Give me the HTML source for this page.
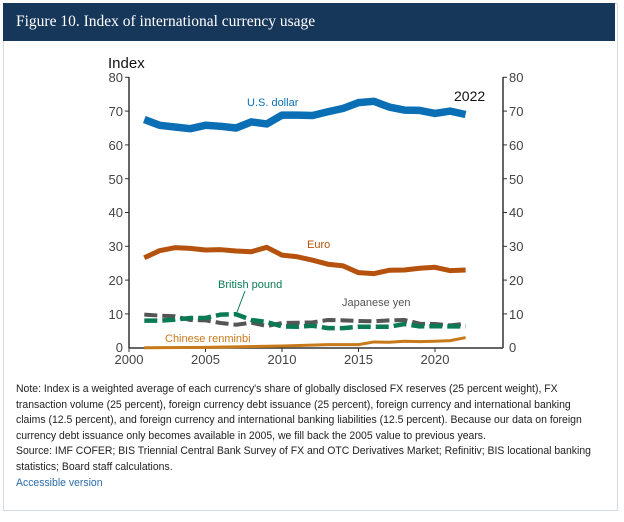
<!DOCTYPE html>
<html><head><meta charset="utf-8"><style>
body{margin:0;background:#fff;width:624px;height:522px;overflow:hidden;font-family:"Liberation Sans",sans-serif}
.panel{position:absolute;left:3px;top:3px;width:615px;height:508px;border:1px solid #d6dbe0;box-sizing:border-box}
.hdr{position:absolute;left:3px;top:3px;width:612px;height:38px;background:#17375a;color:#fff;font-family:"Liberation Serif",serif;font-size:15.5px;line-height:38px;padding-left:13px;box-sizing:border-box}
.note{position:absolute;left:16px;top:382px;width:606px;font-size:11px;line-height:15.6px;color:#222;transform:scaleX(0.95);transform-origin:0 0}
.note a{color:#2a6aa8;text-decoration:none}
</style></head><body>
<div class="panel"></div>
<div class="hdr">Figure 10. Index of international currency usage</div>
<svg width="624" height="522" style="position:absolute;left:0;top:0" font-family="Liberation Sans, sans-serif">
<g stroke="#333" stroke-width="1.5" fill="none">
<line x1="129" y1="77" x2="129" y2="348"/>
<line x1="503" y1="77" x2="503" y2="348"/>
<line x1="129" y1="348" x2="503" y2="348"/>
</g>
<g stroke="#333" stroke-width="1">
<line x1="125" y1="77.3" x2="129" y2="77.3"/><line x1="125" y1="111.1" x2="129" y2="111.1"/><line x1="125" y1="144.9" x2="129" y2="144.9"/><line x1="125" y1="178.7" x2="129" y2="178.7"/><line x1="125" y1="212.5" x2="129" y2="212.5"/><line x1="125" y1="246.3" x2="129" y2="246.3"/><line x1="125" y1="280.1" x2="129" y2="280.1"/><line x1="125" y1="313.9" x2="129" y2="313.9"/>
<line x1="503" y1="77.3" x2="507" y2="77.3"/><line x1="503" y1="111.1" x2="507" y2="111.1"/><line x1="503" y1="144.9" x2="507" y2="144.9"/><line x1="503" y1="178.7" x2="507" y2="178.7"/><line x1="503" y1="212.5" x2="507" y2="212.5"/><line x1="503" y1="246.3" x2="507" y2="246.3"/><line x1="503" y1="280.1" x2="507" y2="280.1"/><line x1="503" y1="313.9" x2="507" y2="313.9"/>
<line x1="129" y1="348" x2="129" y2="352"/><line x1="205.5" y1="348" x2="205.5" y2="352"/><line x1="282" y1="348" x2="282" y2="352"/><line x1="358.5" y1="348" x2="358.5" y2="352"/><line x1="435" y1="348" x2="435" y2="352"/>
</g>
<g font-size="13" fill="#444" text-anchor="end">
<text x="123" y="82">80</text><text x="123" y="116">70</text><text x="123" y="150">60</text><text x="123" y="184">50</text><text x="123" y="217">40</text><text x="123" y="251">30</text><text x="123" y="285">20</text><text x="123" y="319">10</text><text x="123" y="352">0</text>
</g>
<g font-size="13" fill="#444">
<text x="509" y="82">80</text><text x="509" y="116">70</text><text x="509" y="150">60</text><text x="509" y="184">50</text><text x="509" y="217">40</text><text x="509" y="251">30</text><text x="509" y="285">20</text><text x="509" y="319">10</text><text x="509" y="352">0</text>
</g>
<g font-size="13" fill="#444" text-anchor="middle">
<text x="129" y="364">2000</text><text x="205.5" y="364">2005</text><text x="282" y="364">2010</text><text x="358.5" y="364">2015</text><text x="435" y="364">2020</text>
</g>
<text x="108" y="68" font-size="15" fill="#111">Index</text>
<text x="454" y="101" font-size="14" fill="#111">2022</text>
<text x="247" y="106" font-size="11" fill="#0a6fb4">U.S. dollar</text>
<text x="307" y="248" font-size="11" fill="#b5520e">Euro</text>
<text x="218" y="288" font-size="11" fill="#0a7a55">British pound</text>
<line x1="245" y1="291" x2="237" y2="312" stroke="#0a7a55" stroke-width="1"/>
<text x="342" y="306" font-size="11" fill="#555">Japanese yen</text>
<text x="165" y="342" font-size="11" fill="#c87a1a">Chinese renminbi</text>
<g transform="translate(129,347.7) scale(15.3,-3.38)" fill="none" stroke-linejoin="round">
<polyline vector-effect="non-scaling-stroke" stroke="#c87a1a" stroke-width="3" points="1,0 5,0.1 10,0.5 13,0.9 15,0.9 16,1.7 17,1.6 18,1.9 19,1.8 20,1.9 21,2.1 22,3"/>
<polyline vector-effect="non-scaling-stroke" stroke="#555" stroke-width="4" stroke-dasharray="13,5" points="1,9.8 2,9.5 3,9.3 4,8.2 5,8.1 6,7.3 7,6.8 8,7.4 9,6.4 10,7.3 11,7.4 12,7.5 13,8.2 14,8.1 15,7.9 16,7.8 17,8.1 18,8.2 19,7.1 20,7 21,6.6 22,7.1"/>
<polyline vector-effect="non-scaling-stroke" stroke="#0a7a55" stroke-width="4.5" stroke-dasharray="13,5" points="1,8 2,8 3,8.3 4,8.8 5,8.8 6,9.8 7,9.9 8,8.2 9,7.6 10,6.3 11,6.2 12,6.5 13,5.8 14,5.8 15,6.2 16,6.2 17,6.2 18,7 19,6.3 20,6.4 21,6.3 22,6.3"/>
<polyline vector-effect="non-scaling-stroke" stroke="#b5520e" stroke-width="5" points="1,26.6 2,28.7 3,29.6 4,29.4 5,28.9 6,29 7,28.6 8,28.4 9,29.7 10,27.4 11,26.9 12,25.9 13,24.7 14,24.2 15,22.2 16,21.9 17,22.9 18,23 19,23.5 20,23.8 21,22.8 22,23"/>
<polyline vector-effect="non-scaling-stroke" stroke="#0a6fb4" stroke-width="7.5" points="1,67.5 2,65.8 3,65.3 4,64.8 5,65.8 6,65.5 7,65 8,66.8 9,66.2 10,68.8 11,68.8 12,68.7 13,69.8 14,70.8 15,72.5 16,72.9 17,71.2 18,70.3 19,70.2 20,69.3 21,70 22,69"/>
</g>
</svg>
<div class="note">Note: Index is a weighted average of each currency's share of globally disclosed FX reserves (25 percent weight), FX transaction volume (25 percent), foreign currency debt issuance (25 percent), foreign currency and international banking claims (12.5 percent), and foreign currency and international banking liabilities (12.5 percent). Because our data on foreign currency debt issuance only becomes available in 2005, we fill back the 2005 value to previous years.<br>Source: IMF COFER; BIS Triennial Central Bank Survey of FX and OTC Derivatives Market; Refinitiv; BIS locational banking statistics; Board staff calculations.<br><a>Accessible version</a></div>
</body></html>
